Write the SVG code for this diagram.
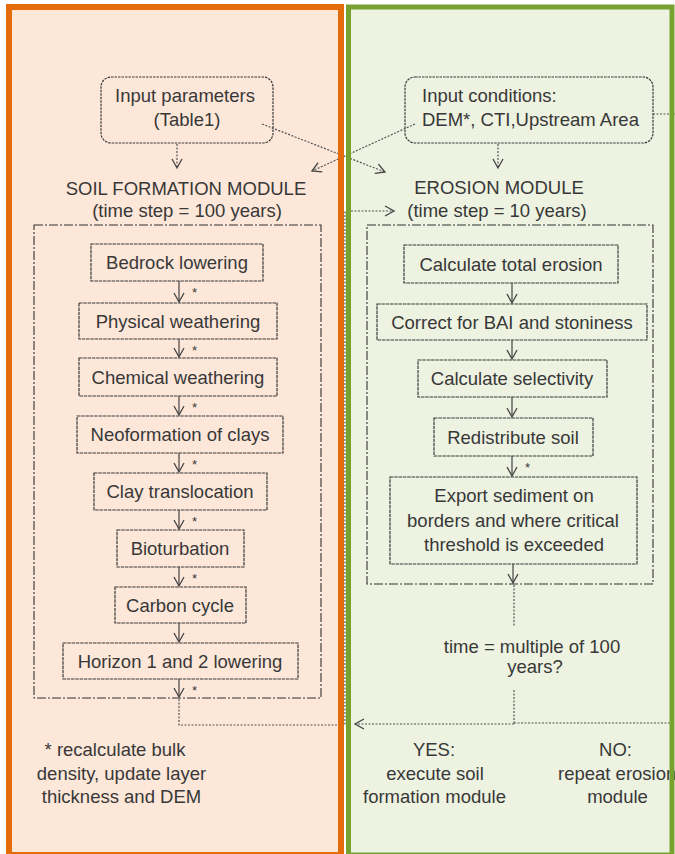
<svg xmlns="http://www.w3.org/2000/svg" width="675" height="854" viewBox="0 0 675 854">
<defs>
<style>
text{font-family:"Liberation Sans",Arial,sans-serif;font-size:18.5px;fill:#383838}
.m{text-anchor:middle}
.star{font-size:13px}
.box{fill:none;stroke:#3a3a3a;stroke-width:1.2;stroke-dasharray:3.5 0.8}
.rbox{fill:none;stroke:#3a3a3a;stroke-width:1.2;stroke-dasharray:2.5 1}
.frame{fill:none;stroke:#333;stroke-width:1.1;stroke-dasharray:9 2 2 2}
.flow{fill:none;stroke:#444;stroke-width:1.2;marker-end:url(#ah)}
.dot{fill:none;stroke:#555;stroke-width:1.2;stroke-dasharray:2 1.5}
.dota{fill:none;stroke:#555;stroke-width:1.2;stroke-dasharray:2 1.5;marker-end:url(#ah)}
</style>
<marker id="ah" markerUnits="userSpaceOnUse" markerWidth="14" markerHeight="14" refX="0" refY="0" viewBox="-11 -7 13 14" orient="auto">
<path d="M-9,-5 L0,0 L-9,5" fill="none" stroke="#444" stroke-width="1.3"/>
</marker>
</defs>
<rect width="675" height="854" fill="#ffffff"/>
<g id="panel-soil-bg"><rect x="9" y="7" width="332" height="848" fill="#fde7d9"/></g>
<g id="panel-erosion-bg"><rect x="348.5" y="7" width="323.5" height="848" fill="#edf2e1"/></g>

<g id="input-parameters">
<rect class="rbox" x="101" y="77" width="172" height="66" rx="10"/>
<text class="m" x="185" y="102">Input parameters</text>
<text class="m" x="187" y="126">(Table1)</text>
</g>
<g id="input-conditions">
<rect class="rbox" x="405" y="77" width="248" height="66" rx="10"/>
<text x="422" y="102">Input conditions:</text>
<text x="422" y="126">DEM*, CTI,Upstream Area</text>
</g>

<g id="soil-module-title">
<text class="m" x="186" y="195">SOIL FORMATION MODULE</text>
<text class="m" x="187" y="217">(time step = 100 years)</text>
<rect class="frame" x="34" y="225" width="287" height="473"/>
</g>
<g id="erosion-module-title">
<text class="m" x="499" y="194">EROSION MODULE</text>
<text class="m" x="497" y="217">(time step = 10 years)</text>
<rect class="frame" x="367" y="225" width="286" height="359"/>
</g>

<g id="bedrock"><rect class="box" x="91" y="244" width="172" height="37"/><text class="m" x="177" y="269">Bedrock lowering</text></g>
<g id="physical"><rect class="box" x="79" y="303" width="198" height="36"/><text class="m" x="178" y="327.5">Physical weathering</text></g>
<g id="chemical"><rect class="box" x="79" y="358" width="198" height="38"/><text class="m" x="178" y="383.5">Chemical weathering</text></g>
<g id="neoformation"><rect class="box" x="77" y="416" width="206" height="37"/><text class="m" x="180" y="441">Neoformation of clays</text></g>
<g id="clay-translocation"><rect class="box" x="94" y="473" width="173" height="37"/><text class="m" x="180" y="498">Clay translocation</text></g>
<g id="bioturbation"><rect class="box" x="117" y="530" width="127" height="37"/><text class="m" x="180" y="555">Bioturbation</text></g>
<g id="carbon-cycle"><rect class="box" x="115" y="587" width="131" height="36"/><text class="m" x="180" y="611.5">Carbon cycle</text></g>
<g id="horizon"><rect class="box" x="63" y="643" width="235" height="36"/><text class="m" x="180" y="667.5">Horizon 1 and 2 lowering</text></g>

<g id="total-erosion"><rect class="box" x="404" y="245" width="214" height="38"/><text class="m" x="511" y="270.5">Calculate total erosion</text></g>
<g id="correct-bai"><rect class="box" x="377" y="304" width="270" height="36"/><text class="m" x="512" y="328.5">Correct for BAI and stoniness</text></g>
<g id="selectivity"><rect class="box" x="418" y="360" width="189" height="37"/><text class="m" x="512" y="385">Calculate selectivity</text></g>
<g id="redistribute"><rect class="box" x="434" y="418" width="159" height="38"/><text class="m" x="513" y="443.5">Redistribute soil</text></g>
<g id="export"><rect class="box" x="390" y="477" width="247" height="87"/>
<text class="m" x="514" y="502">Export sediment on</text>
<text class="m" x="513" y="527">borders and where critical</text>
<text class="m" x="514" y="551">threshold is exceeded</text></g>

<g id="decision">
<text class="m" x="532" y="653">time = multiple of 100</text>
<text class="m" x="535" y="673">years?</text>
</g>

<g id="footnote">
<text class="m" x="115" y="756">* recalculate bulk</text>
<text class="m" x="121.5" y="780">density, update layer</text>
<text class="m" x="121.5" y="803">thickness and DEM</text>
</g>
<g id="yes-label">
<text class="m" x="434" y="756">YES:</text>
<text class="m" x="435" y="780">execute soil</text>
<text class="m" x="434.5" y="803">formation module</text>
</g>
<g id="no-label">
<text class="m" x="615.5" y="756">NO:</text>
<text x="558" y="780">repeat erosion</text>
<text class="m" x="617.5" y="803">module</text>
</g>

<g id="connectors">
<line class="dota" x1="177" y1="144" x2="177" y2="168"/>
<line class="dota" x1="498" y1="144" x2="498" y2="168"/>
<line class="dota" x1="262" y1="124" x2="385" y2="172"/>
<line class="dota" x1="415" y1="124" x2="312" y2="171"/>
<line class="dot" x1="653" y1="114" x2="675" y2="114"/>
<line class="flow" x1="179" y1="281" x2="179" y2="302"/>
<line class="flow" x1="179" y1="339" x2="179" y2="357"/>
<line class="flow" x1="179" y1="396" x2="179" y2="415"/>
<line class="flow" x1="179" y1="453" x2="179" y2="472"/>
<line class="flow" x1="179" y1="510" x2="179" y2="529"/>
<line class="flow" x1="179" y1="567" x2="179" y2="586"/>
<line class="flow" x1="179" y1="623" x2="179" y2="642"/>
<line class="flow" x1="179" y1="679" x2="179" y2="697"/>
<line class="flow" x1="512" y1="283" x2="512" y2="303"/>
<line class="flow" x1="512" y1="340" x2="512" y2="359"/>
<line class="flow" x1="512" y1="397" x2="512" y2="417"/>
<line class="flow" x1="512" y1="456" x2="512" y2="476"/>
<line class="flow" x1="513" y1="564" x2="513" y2="583"/>
<polyline class="dot" points="179,699 179,725 345,725 345,211"/>
<line class="dota" x1="351" y1="211" x2="394" y2="211"/>
<line class="dot" x1="514" y1="585" x2="514" y2="627"/>
<line class="dot" x1="514" y1="690" x2="514" y2="724"/>
<line class="dota" x1="514" y1="724" x2="355" y2="724"/>
<line class="dot" x1="514" y1="723" x2="675" y2="723"/>
</g>
<g id="stars">
<text class="star" x="192" y="297">*</text>
<text class="star" x="192" y="355">*</text>
<text class="star" x="192" y="412">*</text>
<text class="star" x="192" y="469">*</text>
<text class="star" x="192" y="526">*</text>
<text class="star" x="192" y="583">*</text>
<text class="star" x="192" y="695">*</text>
<text class="star" x="525" y="472">*</text>
</g>

<g id="panel-soil-border"><rect x="9" y="7" width="332" height="848" fill="none" stroke="#e46c0a" stroke-width="6"/></g>
<g id="panel-erosion-border"><rect x="348.5" y="7" width="323.5" height="848" fill="none" stroke="#77a22f" stroke-width="5"/></g>
</svg>
